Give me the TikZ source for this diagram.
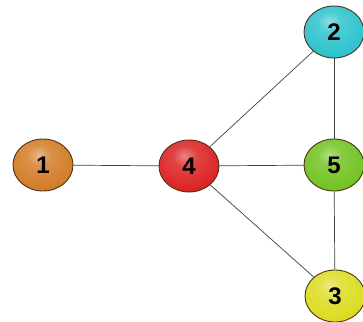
\documentclass[tikz,border=0pt]{standalone}
\usepackage{fontspec}
\setmainfont{Liberation Sans}
\usetikzlibrary{shapes.geometric}
\definecolor{corange}{RGB}{210,125,40}
\definecolor{cred}{RGB}{220,35,35}
\definecolor{ccyan}{RGB}{45,195,205}
\definecolor{cgreen}{RGB}{115,195,35}
\definecolor{cyellow}{RGB}{220,220,35}
\colorlet{ballc}{red}
\pgfdeclareradialshading[ballc]{myball}{\pgfpoint{-4bp}{10bp}}{%
  color(0bp)=(ballc!55!white);
  color(10bp)=(ballc!85!white);
  color(30bp)=(ballc);
  color(45bp)=(ballc!80!black);
  color(50bp)=(ballc!65!black);
  color(100bp)=(ballc!65!black)}
\tikzset{
  setball/.code={\colorlet{ballc}{#1}},
  ballnode/.style={ellipse, minimum width=60pt, minimum height=52pt, inner sep=0pt,
    draw=black!60!brown, line width=0.9pt, setball=#1, shading=myball,
    font=\fontsize{24}{24}\selectfont\bfseries, text=black},
  edge/.style={draw=black!75, line width=0.7pt}
}
\begin{document}
\begin{tikzpicture}[x=1pt,y=-1pt]
\useasboundingbox (0,0) rectangle (363,321);
\node[ballnode=corange] (n1) at (43,165) {1};
\node[ballnode=cred] (n4) at (189,166) {4};
\node[ballnode=ccyan] (n2) at (334,32) {2};
\node[ballnode=cgreen] (n5) at (334,165) {5};
\node[ballnode=cyellow] (n3) at (335,296) {3};
\draw[edge] (n1) -- (n4);
\draw[edge] (n4) -- (n5);
\draw[edge] (n4) -- (n2);
\draw[edge] (n4) -- (n3);
\draw[edge] (n2) -- (n5);
\draw[edge] (n5) -- (n3);
\end{tikzpicture}
\end{document}
